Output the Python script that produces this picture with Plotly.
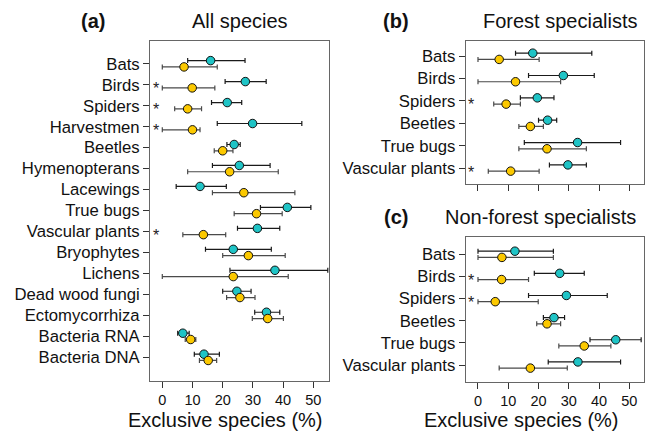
import plotly.graph_objects as go

# ---------------- data ----------------
cats_a = ["Bats", "Birds", "Spiders", "Harvestmen", "Beetles", "Hymenopterans", "Lacewings",
          "True bugs", "Vascular plants", "Bryophytes", "Lichens", "Dead wood fungi",
          "Ectomycorrhiza", "Bacteria RNA", "Bacteria DNA"]
cyan_a = [16.0, 27.5, 21.5, 29.9, 23.8, 25.5, 12.5, 41.4, 31.5, 23.5, 37.3, 24.7, 34.5, 6.8, 13.8]
cyan_a_lo = [8.4, 20.8, 16.3, 18.2, 21.4, 16.6, 4.6, 32.5, 24.9, 14.3, 22.4, 20.0, 30.6, 5.1, 10.6]
cyan_a_hi = [27.4, 34.4, 26.3, 46.2, 25.8, 35.7, 21.2, 49.2, 38.9, 36.1, 54.8, 29.4, 38.9, 8.9, 18.9]
yel_a = [7.2, 9.9, 8.4, 10.0, 20.0, 22.3, 27.0, 31.2, 13.6, 28.5, 23.5, 25.7, 34.9, 9.4, 15.2]
yel_a_lo = [0.0, 0.0, 4.1, 0.0, 17.2, 8.4, 16.6, 23.8, 6.8, 20.0, 0.0, 21.3, 29.8, 7.6, 12.3]
yel_a_hi = [18.2, 17.4, 13.0, 12.5, 23.4, 38.4, 43.9, 39.7, 21.0, 40.7, 41.7, 30.7, 40.1, 11.1, 18.0]
star_a = ["Birds", "Spiders", "Harvestmen", "Vascular plants"]

cats_bc = ["Bats", "Birds", "Spiders", "Beetles", "True bugs", "Vascular plants"]
cyan_b = [18.1, 28.2, 19.6, 23.0, 32.9, 29.7]
cyan_b_lo = [12.4, 16.7, 14.0, 20.0, 15.3, 23.6]
cyan_b_hi = [37.6, 38.4, 25.1, 26.0, 47.1, 35.8]
yel_b = [7.0, 12.4, 9.3, 17.3, 22.8, 10.8]
yel_b_lo = [0.0, 0.0, 5.2, 13.5, 13.5, 3.4]
yel_b_hi = [20.2, 27.3, 14.0, 21.6, 35.8, 20.2]
star_b = ["Spiders", "Vascular plants"]

cyan_c = [12.2, 27.0, 29.2, 25.1, 45.5, 33.0]
cyan_c_lo = [0.0, 18.6, 16.7, 21.6, 37.0, 23.2]
cyan_c_hi = [24.9, 35.1, 42.7, 28.6, 53.9, 47.1]
yel_c = [7.9, 7.8, 5.7, 22.8, 35.1, 17.3]
yel_c_lo = [0.0, 0.0, 0.0, 19.4, 26.7, 7.0]
yel_c_hi = [24.9, 16.7, 19.9, 27.3, 43.9, 29.5]
star_c = ["Birds", "Spiders"]

xticks = [0, 10, 20, 30, 40, 50]
x_title = "Exclusive species (%)"

# ---------------- style ----------------
FONT = "Arial, Liberation Sans, sans-serif"
CYAN = "#1fc4c6"
YELLOW = "#fcc900"
FRAME = "#666666"
W, H = 645, 442

fig = go.Figure()


def add_panel(xa, ya, cats, cv, clo, chi, yv, ylo, yhi, stars, off):
    idx = list(range(len(cats)))
    fig.add_trace(go.Scatter(
        x=cv, y=[i - off for i in idx], mode="markers", xaxis=xa, yaxis=ya,
        marker=dict(color=CYAN, size=8.5, line=dict(color="#111", width=1)),
        error_x=dict(type="data", symmetric=False,
                     array=[h - v for h, v in zip(chi, cv)],
                     arrayminus=[v - l for v, l in zip(cv, clo)],
                     color="#1a1a1a", thickness=1.2, width=2.5),
        showlegend=False, hoverinfo="skip"))
    fig.add_trace(go.Scatter(
        x=yv, y=[i + off for i in idx], mode="markers", xaxis=xa, yaxis=ya,
        marker=dict(color=YELLOW, size=8.5, line=dict(color="#111", width=1)),
        error_x=dict(type="data", symmetric=False,
                     array=[h - v for h, v in zip(yhi, yv)],
                     arrayminus=[v - l for v, l in zip(yv, ylo)],
                     color="#4a4a4a", thickness=1.2, width=2.5),
        showlegend=False, hoverinfo="skip"))
    for s in stars:
        fig.add_annotation(x=-2.2, y=cats.index(s), xref=xa, yref=ya, text="*",
                           showarrow=False, yshift=-4,
                           font=dict(family=FONT, size=16, color="#222"))


add_panel("x", "y", cats_a, cyan_a, cyan_a_lo, cyan_a_hi, yel_a, yel_a_lo, yel_a_hi, star_a, 0.15)
add_panel("x2", "y2", cats_bc, cyan_b, cyan_b_lo, cyan_b_hi, yel_b, yel_b_lo, yel_b_hi, star_b, 0.14)
add_panel("x3", "y3", cats_bc, cyan_c, cyan_c_lo, cyan_c_hi, yel_c, yel_c_lo, yel_c_hi, star_c, 0.14)


def px_x(p):
    return p / W


def px_y(p):
    return 1 - p / H


axis_common = dict(showline=True, mirror=True, linecolor=FRAME, linewidth=1,
                   showgrid=False, zeroline=False, ticks="outside", ticklen=6,
                   tickcolor="#333", tickwidth=1)

xfont = dict(family=FONT, size=14.5, color="#111")
yfont = dict(family=FONT, size=16.7, color="#111")

fig.update_layout(
    width=W, height=H, margin=dict(l=0, r=0, t=0, b=0),
    paper_bgcolor="white", plot_bgcolor="white",
    xaxis=dict(domain=[px_x(150), px_x(329)], range=[-4.07, 55.2], anchor="y",
               tickvals=xticks, tickfont=xfont, **axis_common),
    yaxis=dict(domain=[px_y(380.7), px_y(40.7)], range=[15.115, -1.1], anchor="x",
               tickvals=list(range(len(cats_a))), ticktext=cats_a, tickfont=yfont,
               **axis_common),
    xaxis2=dict(domain=[px_x(465.7), px_x(643.7)], range=[-4.06, 54.74], anchor="y2",
                tickvals=xticks, showticklabels=False, **axis_common),
    yaxis2=dict(domain=[px_y(184), px_y(40.5)], range=[5.716, -0.707], anchor="x2",
                tickvals=list(range(len(cats_bc))), ticktext=cats_bc, tickfont=yfont,
                **axis_common),
    xaxis3=dict(domain=[px_x(465.7), px_x(643.7)], range=[-4.06, 54.74], anchor="y3",
                tickvals=xticks, tickfont=xfont, **axis_common),
    yaxis3=dict(domain=[px_y(381.7), px_y(236.7)], range=[5.754, -0.795], anchor="x3",
                tickvals=list(range(len(cats_bc))), ticktext=cats_bc, tickfont=yfont,
                **axis_common),
)

titles = [
    ("<b>(a)</b>", 93, 21), ("All species", 239.5, 21),
    ("<b>(b)</b>", 396, 21), ("Forest specialists", 560, 21),
    ("<b>(c)</b>", 396, 216.5), ("Non-forest specialists", 540.5, 216.5),
    (x_title, 225, 420), (x_title, 521, 420),
]
for txt, cx, cy in titles:
    fig.add_annotation(x=px_x(cx), y=px_y(cy), xref="paper", yref="paper", text=txt,
                       showarrow=False, xanchor="center", yanchor="middle",
                       font=dict(family=FONT, size=20, color="#111"))

fig.write_html("out.html")
